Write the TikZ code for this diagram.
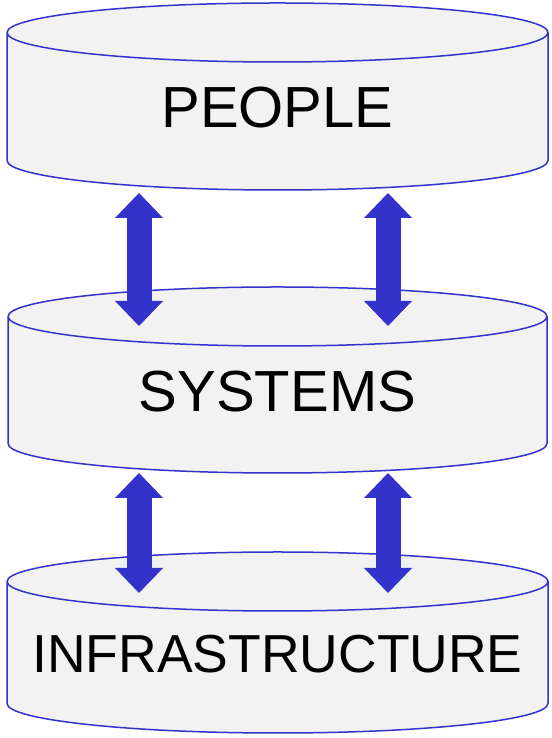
\documentclass[tikz,border=0pt]{standalone}
\usepackage{fontspec}
\setmainfont{Liberation Sans}
\usetikzlibrary{positioning,shapes.geometric,arrows.meta}

\definecolor{lineblue}{RGB}{51,51,204}
\definecolor{diskgray}{RGB}{242,242,242}

\tikzset{
  layer/.style={cylinder, shape border rotate=90, aspect=0.118,
    draw=lineblue, fill=diskgray, line width=1.5pt,
    minimum width=541pt, minimum height=187pt,
    text width=500pt, text depth=8pt, align=center,
    inner sep=0pt, outer sep=0pt, font=\fontsize{58}{60}\selectfont},
  link/.style={draw=lineblue, line width=25pt,
    {Triangle[width=48pt,length=25pt,line width=0pt]}-{Triangle[width=48pt,length=25pt,line width=0pt]}}
}

\begin{document}
\begin{tikzpicture}[x=1pt,y=1pt]
  \useasboundingbox (0,0) rectangle (551,738);

  \node[layer, anchor=north] (people) at (277.5,735) {PEOPLE};
  \node[layer, minimum width=539pt, minimum height=186pt,
    below=97pt of people] (systems) {SYSTEMS};
  \node[layer, minimum height=181pt,
    font=\fontsize{53.5}{56}\selectfont, below=79pt of systems] (infra) {INFRASTRUCTURE};

  % two links between each pair of layers
  \draw[link] ([xshift=-138.5pt,yshift=-3pt]people.south) -- ([xshift=-138.5pt,yshift=-39pt]systems.north);
  \draw[link] ([xshift=110.5pt,yshift=-3pt]people.south) -- ([xshift=110.5pt,yshift=-39pt]systems.north);
  \draw[link] ([xshift=-138.5pt]systems.south) -- ([xshift=-138.5pt,yshift=-41pt]infra.north);
  \draw[link] ([xshift=110.5pt]systems.south) -- ([xshift=110.5pt,yshift=-41pt]infra.north);
\end{tikzpicture}
\end{document}
